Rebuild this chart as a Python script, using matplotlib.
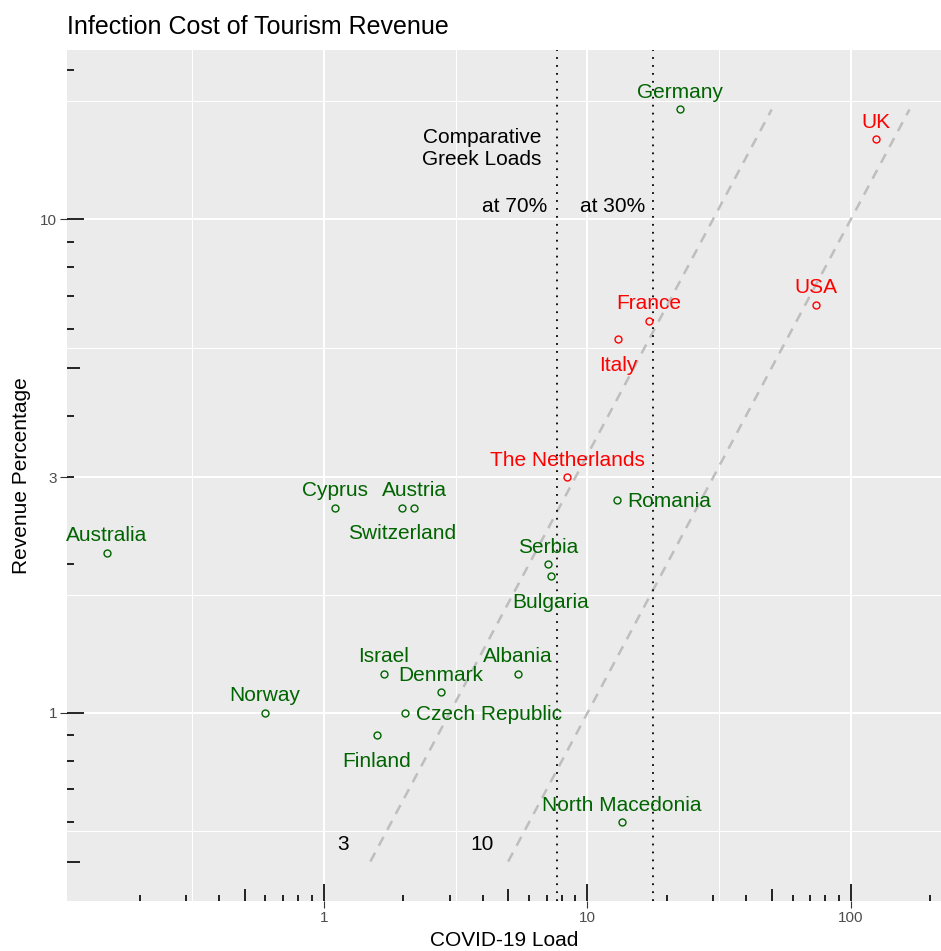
import numpy as np
import matplotlib
matplotlib.use("Agg")
import matplotlib.pyplot as plt
from matplotlib.ticker import FixedLocator, NullFormatter
from matplotlib.transforms import blended_transform_factory

plt.rcParams['font.family'] = ['Liberation Sans', 'DejaVu Sans']

# ---------------- data ----------------
countries = ["Germany", "UK", "USA", "France", "Italy", "The Netherlands",
             "Romania", "Cyprus", "Austria", "Switzerland", "Australia",
             "Serbia", "Bulgaria", "Israel", "Albania", "Denmark", "Norway",
             "Czech Republic", "Finland", "North Macedonia"]
covid_load = [22.4, 124, 73.6, 17.1, 13.1, 8.36,
              12.9, 1.10, 2.20, 1.98, 0.150,
              7.08, 7.27, 1.69, 5.45, 2.78, 0.597,
              2.03, 1.59, 13.5]
revenue_pct = [16.7, 14.5, 6.70, 6.22, 5.71, 3.00,
               2.70, 2.60, 2.60, 2.60, 2.11,
               2.00, 1.89, 1.20, 1.20, 1.10, 1.00,
               1.00, 0.90, 0.60]
highlighted = ["UK", "USA", "France", "Italy", "The Netherlands"]
label_side = ["above", "above", "above", "above", "below", "above",
              "right", "above", "above", "below", "above",
              "above", "below", "above", "above", "above", "above",
              "right", "below", "above"]

greek_load_levels = ["at 70%", "at 30%"]
greek_loads = [7.66, 17.7]

ratio_values = [3, 10]
ratio_x_start = [1.5, 5.0]
ratio_x_end = [50.0, 166.7]

x_breaks = [1, 10, 100]
y_breaks = [1, 3, 10]

# ---------------- figure ----------------
W, H = 941, 951
fig = plt.figure(figsize=(W / 100, H / 100), dpi=100)
px_l, px_r, px_t, px_b = 67, 941, 50, 901
ax = fig.add_axes([px_l / W, 1 - px_b / H, (px_r - px_l) / W, (px_b - px_t) / H])
ax.set_facecolor("#EBEBEB")
for s in ax.spines.values():
    s.set_visible(False)

ax.set_xscale("log")
ax.set_yscale("log")
ax.set_xlim(0.1059, 219.6)
ax.set_ylim(0.416, 22.0)

ax.xaxis.set_major_locator(FixedLocator(x_breaks))
ax.yaxis.set_major_locator(FixedLocator(y_breaks))
ax.set_xticklabels([str(v) for v in x_breaks])
ax.set_yticklabels([str(v) for v in y_breaks])
xb = np.log10([0.1] + x_breaks + [1000])
yb = np.log10([1 / 3] + y_breaks + [30])
ax.xaxis.set_minor_locator(FixedLocator(10 ** ((xb[:-1] + xb[1:]) / 2)))
ax.yaxis.set_minor_locator(FixedLocator(10 ** ((yb[:-1] + yb[1:]) / 2)))
ax.xaxis.set_minor_formatter(NullFormatter())
ax.yaxis.set_minor_formatter(NullFormatter())
ax.tick_params(which="major", length=5, width=0.8, color="#333333",
               labelsize=11, labelcolor="#4D4D4D", pad=2.2)
ax.tick_params(which="minor", length=0)
ax.grid(which="major", color="white", lw=1.45)
ax.grid(which="minor", color="white", lw=0.75)
ax.set_axisbelow(True)

# log ticks (annotation_logticks style)
axw, axh = px_r - px_l, px_b - px_t
tx = blended_transform_factory(ax.transData, ax.transAxes)
ty = blended_transform_factory(ax.transAxes, ax.transData)
for k in range(-2, 4):
    for m in range(1, 10):
        v = m * 10.0 ** k
        L = 17 if m == 1 else (12.5 if m == 5 else 6.5)
        if 0.1059 < v < 219.6:
            ax.plot([v, v], [0, L / axh], transform=tx, color="black", lw=1.2,
                    solid_capstyle="butt", zorder=3, clip_on=False)
        if 0.416 < v < 22.0:
            ax.plot([0, L / axw], [v, v], transform=ty, color="black", lw=1.2,
                    solid_capstyle="butt", zorder=3, clip_on=False)

# ratio lines
for r, xs, xe in zip(ratio_values, ratio_x_start, ratio_x_end):
    xx = np.array([xs, xe])
    ax.plot(xx, xx / r, color="#BEBEBE", lw=1.8, linestyle=(0, (4, 3.2)), zorder=2)
ax.text(1.18, 0.541, "3", ha="center", va="center", fontsize=15, color="black")
ax.text(3.98, 0.541, "10", ha="center", va="center", fontsize=15, color="black")

# Greek load lines
for g in greek_loads:
    ax.axvline(g, color="black", lw=1.3, linestyle=(0, (1, 3.4)), zorder=2)
ax.text(6.66, 13.9, "Comparative\nGreek Loads", ha="right", va="center",
        fontsize=15, color="black", linespacing=1.25)
ax.text(7.02, 10.6, greek_load_levels[0], ha="right", va="center", fontsize=15)
ax.text(16.5, 10.6, greek_load_levels[1], ha="right", va="center", fontsize=15)

# points and labels
for name, x, y, side in zip(countries, covid_load, revenue_pct, label_side):
    col = "#FF0000" if name in highlighted else "#006400"
    ax.plot([x], [y], marker="o", ms=5, mfc="none", mec=col, mew=1.0,
            linestyle="none", zorder=4)
    if side == "above":
        off, ha = (0, 17), "center"
    elif side == "below":
        off, ha = (0, -26), "center"
    else:
        off, ha = (11, -2), "left"
    ax.annotate(name, (x, y), xytext=off, textcoords="offset pixels",
                ha=ha, va="center", fontsize=15, color=col, zorder=5)

# titles
fig.text(px_l / W, 1 - 27 / H, "Infection Cost of Tourism Revenue",
         ha="left", va="center", fontsize=18)
fig.text((px_l + px_r) / 2 / W, 1 - 941 / H, "COVID-19 Load",
         ha="center", va="center", fontsize=15)
fig.text(22 / W, 1 - (px_t + px_b) / 2 / H, "Revenue Percentage",
         ha="center", va="center", rotation=90, fontsize=15)

fig.savefig("out.png", dpi=100)
